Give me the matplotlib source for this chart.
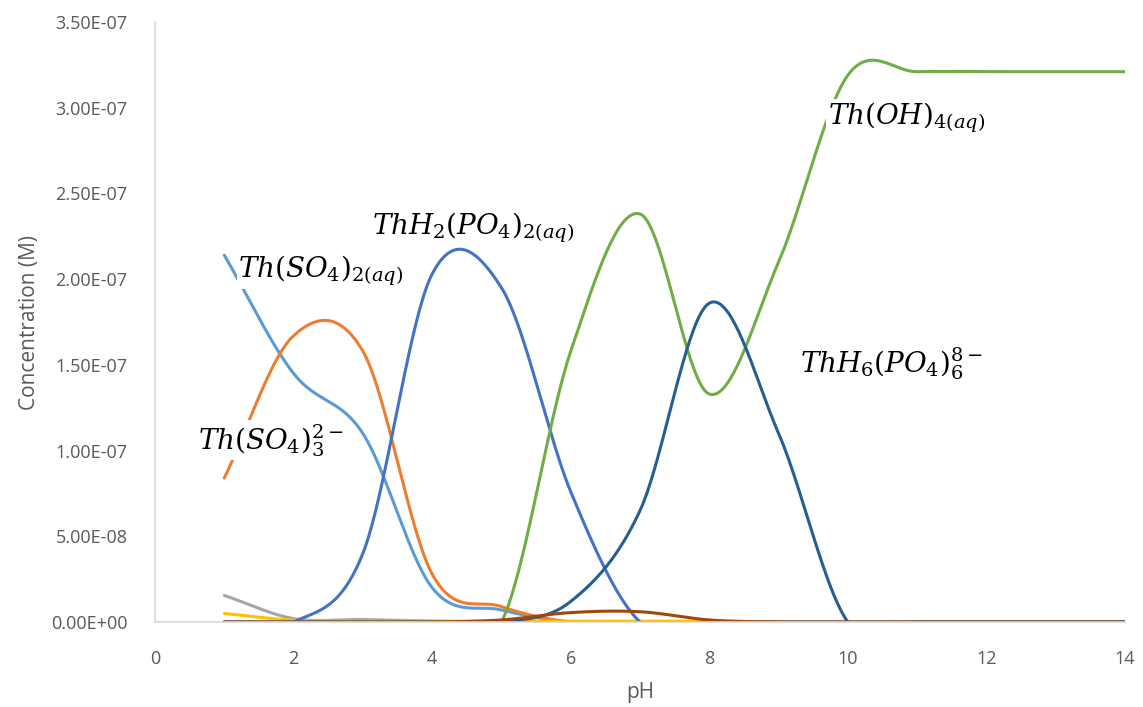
import numpy as np
import matplotlib.pyplot as plt

# pH points and species concentrations (units of 1e-7 M)
ph = [1, 2, 3, 4, 5, 6, 7, 8, 9, 10, 11, 12, 13, 14]
th_so4_2 = [2.14, 1.45, 1.10, 0.20, 0.07, 0, 0, 0, 0, 0, 0, 0, 0, 0]
th_so4_3 = [0.84, 1.67, 1.58, 0.28, 0.09, 0, 0, 0, 0, 0, 0, 0, 0, 0]
th_so4_other = [0.155, 0.02, 0.015, 0.005, 0, 0, 0, 0, 0, 0, 0, 0, 0, 0]
th_minor = [0.05, 0.01, 0.005, 0.005, 0.005, 0.005, 0.005, 0.005, 0, 0, 0, 0, 0, 0]
thh2_po4_2 = [0, 0, 0.40, 2.03, 1.95, 0.76, 0, 0, 0, 0, 0, 0, 0, 0]
th_oh_4 = [0, 0, 0, 0, 0, 1.58, 2.38, 1.33, 2.10, 3.19, 3.21, 3.21, 3.21, 3.21]
thh6_po4_6 = [0, 0, 0, 0, 0, 0.12, 0.65, 1.86, 1.10, 0, 0, 0, 0, 0]
th_po4_other = [0, 0, 0, 0, 0.012, 0.055, 0.06, 0.012, 0, 0, 0, 0, 0, 0]
zeros = [0] * 14

series = [
    (th_so4_2, '#5B9BD5'),
    (th_so4_3, '#ED7D31'),
    (th_so4_other, '#A5A5A5'),
    (th_minor, '#FFC000'),
    (thh2_po4_2, '#4472C4'),
    (th_oh_4, '#70AD47'),
    (thh6_po4_6, '#255E91'),
    (zeros, '#636363'),
    (th_po4_other, '#9E480E'),
]


def smooth(x, y, n=40):
    # catmull-rom spline through the points, like a smoothed line chart
    x = np.asarray(x, float)
    y = np.asarray(y, float)
    m = np.zeros_like(y)
    m[1:-1] = (y[2:] - y[:-2]) / 2
    m[0] = y[1] - y[0]
    m[-1] = y[-1] - y[-2]
    xs, ys = [], []
    for i in range(len(x) - 1):
        t = np.linspace(0, 1, n, endpoint=False)
        h00 = 2*t**3 - 3*t**2 + 1
        h10 = t**3 - 2*t**2 + t
        h01 = -2*t**3 + 3*t**2
        h11 = t**3 - t**2
        xs.append(x[i] + t * (x[i+1] - x[i]))
        ys.append(h00*y[i] + h10*m[i] + h01*y[i+1] + h11*m[i+1])
    xs.append([x[-1]])
    ys.append([y[-1]])
    return np.concatenate(xs), np.concatenate(ys)


fig = plt.figure(figsize=(11.43, 7.07), dpi=100)
ax = fig.add_axes([0.1356, 0.1202, 0.8487, 0.8487])

for vals, col in series:
    sx, sy = smooth(ph, vals)
    ax.plot(sx, sy * 1e-7, color=col, lw=2.2, solid_capstyle='round')

ax.set_xlim(0, 14)
ax.set_ylim(0, 3.5e-7)
ax.set_xticks(range(0, 15, 2))
ax.set_yticks(np.arange(0, 3.51e-7, 0.5e-7))
ax.set_yticklabels(['%.2E' % v for v in np.arange(0, 3.51e-7, 0.5e-7)])
ax.tick_params(length=0, labelsize=13, labelcolor='#595959', pad=20)
for s in ['top', 'right']:
    ax.spines[s].set_visible(False)
for s in ['left', 'bottom']:
    ax.spines[s].set_color('#D9D9D9')
    ax.spines[s].set_linewidth(1.2)
for lab in ax.get_xticklabels() + ax.get_yticklabels():
    lab.set_fontfamily('Open Sans')

ax.set_xlabel('pH', fontsize=15, color='#595959', fontfamily='Open Sans', labelpad=10)
ax.set_ylabel('Concentration (M)', fontsize=15, color='#595959', fontfamily='Open Sans', labelpad=8)

plt.rcParams['mathtext.fontset'] = 'dejavuserif'
box = dict(facecolor='white', edgecolor='none', pad=1)
labels = [
    (1.2, 2.05e-7, r'$Th(SO_4)_{2(aq)}$'),
    (0.62, 1.06e-7, r'$Th(SO_4)_3^{2-}$'),
    (3.13, 2.30e-7, r'$ThH_2(PO_4)_{2(aq)}$'),
    (9.71, 2.94e-7, r'$Th(OH)_{4(aq)}$'),
    (9.31, 1.51e-7, r'$ThH_6(PO_4)_6^{8-}$'),
]
for lx, ly, txt in labels:
    ax.text(lx, ly, txt, fontsize=20, color='black', ha='left', va='center', bbox=box, zorder=5)

fig.savefig('out.png', dpi=100)
